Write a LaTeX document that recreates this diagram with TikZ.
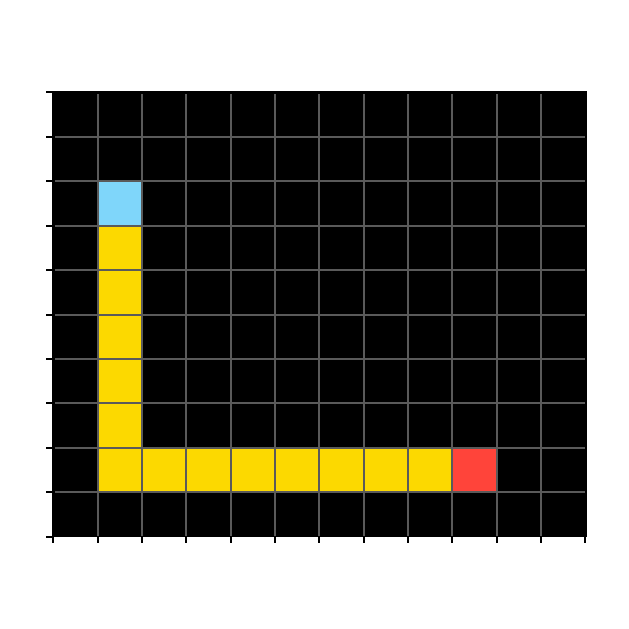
\documentclass[tikz,border=0pt]{standalone}
\usepackage{xcolor}
\definecolor{gridgray}{HTML}{5A5A5A}
\definecolor{cellblue}{HTML}{7FD6FA}
\definecolor{cellyellow}{HTML}{FCD900}
\definecolor{cellred}{HTML}{FF443A}
\begin{document}
\begin{tikzpicture}[x=1mm,y=-1mm,
  gridline/.style={draw=gridgray,line width=2mm},
  tickmark/.style={draw=black,line width=2mm},
  cellfill/.style={fill=#1}]
\useasboundingbox (0,0) rectangle (629,629);
\fill[white] (0,0) rectangle (629,629);
\def\xo{53.3}\def\dx{44.33}
\def\yo{92.3}\def\dy{44.44}
% black background
\fill[black] (51.7,90.5) rectangle (586.7,537.3);
% coloured cells (col, row)
\fill[cellblue] ({\xo+1*\dx},{\yo+2*\dy}) rectangle ({\xo+2*\dx},{\yo+3*\dy});
\foreach \r in {3,...,8}
  \fill[cellyellow] ({\xo+1*\dx},{\yo+\r*\dy}) rectangle ({\xo+2*\dx},{\yo+(\r+1)*\dy});
\foreach \c in {2,...,8}
  \fill[cellyellow] ({\xo+\c*\dx},{\yo+8*\dy}) rectangle ({\xo+(\c+1)*\dx},{\yo+9*\dy});
\fill[cellred] ({\xo+9*\dx},{\yo+8*\dy}) rectangle ({\xo+10*\dx},{\yo+9*\dy});
% grid lines
\foreach \c in {1,...,11}
  \draw[gridline] ({\xo+\c*\dx},94) -- ({\xo+\c*\dx},535.5);
\foreach \r in {1,...,9}
  \draw[gridline] (55,{\yo+\r*\dy}) -- (584.5,{\yo+\r*\dy});
% ticks
\foreach \r in {0,...,10}
  \draw[tickmark] (46,{\yo+\r*\dy}) -- (51.7,{\yo+\r*\dy});
\foreach \c in {0,...,12}
  \draw[tickmark] ({\xo+\c*\dx},537.3) -- ({\xo+\c*\dx},543);
\end{tikzpicture}
\end{document}
